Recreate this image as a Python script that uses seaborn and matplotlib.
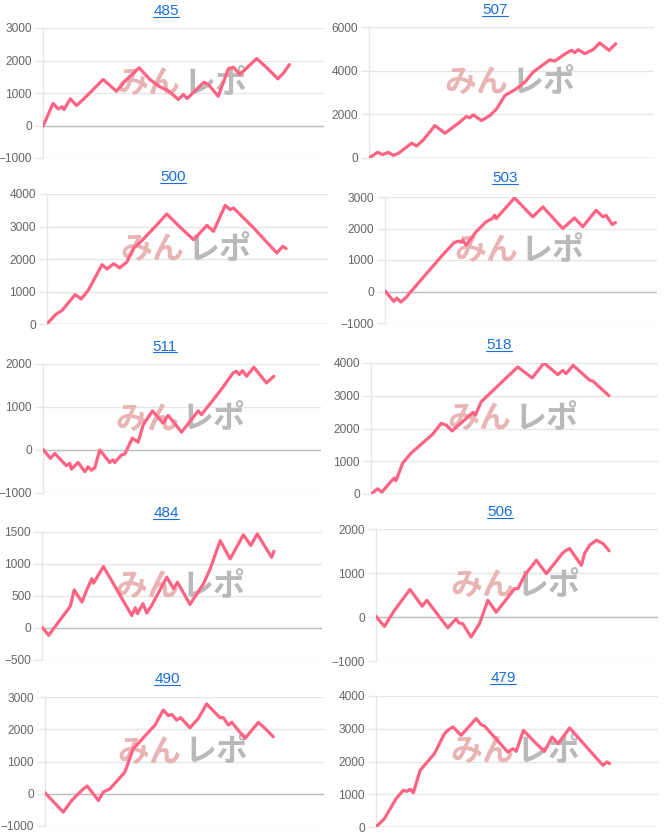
import matplotlib.pyplot as plt
from matplotlib.lines import Line2D
import seaborn as sns

sns.set_theme(style='white')
plt.rcParams['font.family'] = ['Liberation Sans', 'Noto Sans CJK JP', 'DejaVu Sans']

# machine numbers shown as chart titles
titles = ['485', '507', '500', '503', '511', '518', '484', '506', '490', '479']

# cumulative difference (x = progress in %)
x485 = [0, 4.1, 6.1, 7.9, 8.5, 11.1, 13.6, 16.3, 19, 24.4, 29.8, 33.9, 39, 43.4, 47.4, 49.7,
        50.8, 54.9, 56.9, 58.5, 65.3, 67.1, 71.1, 75.2, 77.2, 79.9, 82.7, 86.7, 90.8, 95.3, 97.6, 100]
y485 = [-20, 680, 510, 575, 490, 820, 615, 800, 1005, 1415, 1055, 1415, 1775, 1415, 1190, 1110,
        1070, 800, 955, 830, 1335, 1260, 900, 1745, 1795, 1570, 1775, 2060, 1775, 1435, 1620, 1875]

x507 = [0, 3.5, 5.5, 7.8, 9.9, 11.9, 17.3, 19.3, 22, 26.7, 30.8, 36.2, 39.5, 40.9, 42.2, 45.6, 49,
        51.7, 55.1, 59.1, 63.2, 66.5, 73.3, 75.3, 80, 82.1, 83.4, 84.8, 87.4, 90.8, 93.5, 97.3, 100]
y507 = [0, 260, 155, 260, 120, 215, 675, 550, 825, 1485, 1135, 1595, 1900, 1840, 1975, 1715, 1945,
        2250, 2865, 3125, 3475, 3935, 4500, 4440, 4810, 4930, 4825, 4960, 4780, 4960, 5270, 4930, 5235]

x500 = [0, 3.5, 6.3, 11.8, 14.3, 17.4, 23, 25.1, 27.9, 30.4, 33.4, 36.2, 39, 46, 50.1, 55.7,
        61.3, 66.9, 69.6, 74.5, 76.6, 78, 86.4, 96.1, 98.6, 100]
y500 = [0, 285, 420, 905, 770, 1055, 1825, 1690, 1855, 1725, 1910, 2340, 2515, 3055, 3385, 2975,
        2595, 3035, 2850, 3650, 3520, 3570, 2955, 2185, 2390, 2320]

x503 = [0, 3.8, 5.1, 6.9, 9.1, 11.3, 25, 30.1, 32, 33, 33.7, 35.2, 39.5, 43.8, 46.5, 47.5, 48.2,
        56.2, 64.1, 68.5, 77.1, 82.2, 85.8, 91.6, 94.5, 95.9, 98.6, 100]
y503 = [20, -315, -210, -335, -190, 0, 1160, 1560, 1600, 1560, 1630, 1475, 1895, 2210, 2315, 2420,
        2315, 2970, 2370, 2685, 2000, 2335, 2055, 2580, 2370, 2420, 2125, 2190]

x511 = [0, 3.2, 5.1, 10.1, 11.6, 12.3, 15.2, 18.1, 19.5, 21, 22.4, 24.6, 28.9, 30.3, 31.1, 34,
        35.4, 38.7, 41.2, 43.4, 47.4, 52, 54.2, 60, 67.2, 68.6, 76.6, 82.4, 83.8, 85, 86.4, 88.2,
        91.3, 96.8, 100]
y511 = [15, -195, -80, -365, -310, -445, -290, -505, -390, -470, -415, 0, -290, -230, -290, -115,
        -95, 275, 180, 585, 910, 625, 805, 415, 910, 820, 1365, 1795, 1830, 1755, 1845, 1715,
        1925, 1560, 1715]

x518 = [0, 2.8, 4.6, 8.4, 9.8, 10.5, 13.3, 16.8, 25.9, 29.5, 31.6, 34.1, 42.8, 43.9, 46.3, 56.8,
        61.7, 67.7, 72.7, 78.5, 80.6, 82, 84.9, 91.9, 93.3, 100]
y518 = [0, 160, 60, 385, 485, 405, 940, 1245, 1825, 2155, 2105, 1925, 2490, 2410, 2815, 3545,
        3880, 3545, 4000, 3645, 3775, 3675, 3930, 3475, 3445, 3000]

x484 = [0, 2.9, 5, 12.2, 13.9, 17.2, 19.7, 21.5, 22.2, 26.5, 38.7, 40.2, 41.2, 43.5, 45.2, 47.3,
        53.8, 56.7, 58.4, 63.8, 69.6, 72.5, 76.8, 81.1, 86.8, 90, 92.8, 95.4, 99, 100]
y484 = [15, -115, -10, 340, 595, 405, 630, 770, 700, 960, 195, 315, 225, 380, 235, 355,
        795, 615, 715, 370, 690, 925, 1365, 1080, 1455, 1290, 1470, 1315, 1105, 1200]

x506 = [0, 3.6, 7.9, 14.6, 19.8, 21.8, 30.8, 34.4, 35.5, 37.2, 40.8, 44.4, 48, 51.6, 59.5, 60.9,
        63.8, 68.8, 73.1, 80.2, 81.7, 83.1, 88.1, 89.5, 91.7, 94.6, 97.4, 100]
y506 = [15, -215, 150, 625, 245, 380, -245, -40, -135, -150, -455, -150, 380, 110, 645, 645,
        950, 1290, 985, 1460, 1520, 1555, 1175, 1445, 1635, 1745, 1670, 1505]

x490 = [0, 8, 11.7, 16.8, 18.5, 23.4, 25.5, 28.5, 35, 38.7, 40.9, 43.8, 48.2, 51.8, 54, 55.5,
        57.7, 59.4, 63.5, 67.2, 70.8, 76.6, 78.1, 80.3, 81.8, 87.6, 93.4, 95.6, 100]
y490 = [30, -570, -210, 155, 240, -210, 50, 155, 675, 1405, 1560, 1795, 2130, 2595, 2420, 2460,
        2285, 2360, 2045, 2340, 2785, 2360, 2360, 2130, 2215, 1715, 2210, 2080, 1765]

x479 = [0, 3.6, 8.6, 11.7, 13.1, 14.6, 16, 18.9, 25, 29.3, 30.7, 32.9, 36.4, 42.9, 45, 46.4,
        56.4, 58.6, 60, 63.1, 68.6, 72.1, 75.4, 77.9, 82.9, 91.4, 97.1, 98.9, 100]
y479 = [0, 255, 865, 1120, 1090, 1150, 1050, 1730, 2240, 2850, 2950, 3055, 2800, 3310, 3125, 3085,
        2290, 2390, 2310, 2950, 2545, 2310, 2750, 2545, 3025, 2340, 1885, 1985, 1935]

xs = [x485, x507, x500, x503, x511, x518, x484, x506, x490, x479]
ys = [y485, y507, y500, y503, y511, y518, y484, y506, y490, y479]

yticks = [
    [-1000, 0, 1000, 2000, 3000],
    [0, 2000, 4000, 6000],
    [0, 1000, 2000, 3000, 4000],
    [-1000, 0, 1000, 2000, 3000],
    [-1000, 0, 1000, 2000],
    [0, 1000, 2000, 3000, 4000],
    [-500, 0, 500, 1000, 1500],
    [-1000, 0, 1000, 2000],
    [-1000, 0, 1000, 2000, 3000],
    [0, 1000, 2000, 3000, 4000],
]

# layout in pixels: plot box (left, top, right, bottom), x range, title centre
W, H = 666, 835
boxes = [(43, 28, 324, 158), (369, 27, 654, 158),
         (47, 194, 328, 324), (385, 197, 657, 323),
         (43, 364, 321, 493), (371, 363, 658, 494),
         (42, 532, 322, 660), (376, 529, 658, 661),
         (45, 697, 324, 826), (376, 696, 658, 827)]
xmax = [114, 115.5, 117.5, 118, 120.4, 120.6, 120.7, 121, 122.2, 120.7]
title_pos = [(166, 15), (495, 14), (173, 181), (505, 182), (165, 351),
             (499, 349), (166, 517), (500, 516), (167, 683), (503, 682)]

fig = plt.figure(figsize=(W / 100, H / 100), dpi=100)

for i in range(10):
    L, T, R, B = boxes[i]
    ax = fig.add_axes([L / W, 1 - B / H, (R - L) / W, (B - T) / H])
    ax.set_axisbelow(True)
    ax.text(0.49, 0.57, 'みん', transform=ax.transAxes, ha='right', va='center',
            fontsize=23, fontweight='bold', color='#e9b4b4', zorder=1,
            family=['Noto Sans CJK JP'])
    ax.text(0.50, 0.57, 'レポ', transform=ax.transAxes, ha='left', va='center',
            fontsize=23, fontweight='bold', color='#b9b9b9', zorder=1,
            family=['Noto Sans CJK JP'])
    sns.lineplot(x=xs[i], y=ys[i], ax=ax, color='#ff6384', linewidth=2.3,
                 estimator=None, sort=False, zorder=3)
    ax.axhline(0, color='#bdbdbd', lw=1, zorder=2)
    ax.set_xlim(0, xmax[i])
    ax.set_ylim(yticks[i][0], yticks[i][-1])
    ax.set_yticks(yticks[i])
    ax.set_xticks([])
    ax.set_xlabel('')
    ax.set_ylabel('')
    ax.grid(axis='y', color='#e6e6e6', lw=1)
    for s in ['top', 'right', 'bottom']:
        ax.spines[s].set_visible(False)
    ax.spines['left'].set_color('#e6e6e6')
    ax.spines['left'].set_linewidth(1)
    ax.tick_params(axis='y', length=6, width=1, color='#e6e6e6',
                   labelsize=8.6, labelcolor='#666666', pad=2, left=True)

texts = []
for i, t in enumerate(titles):
    cx, by = title_pos[i]
    texts.append(fig.text(cx / W, 1 - by / H, t, ha='center', va='baseline',
                          fontsize=11, color='#1a6fd6'))

# underline the link-style titles
fig.canvas.draw()
r = fig.canvas.get_renderer()
for i, t in enumerate(texts):
    bb = t.get_window_extent(r)
    yy = 1 - (title_pos[i][1] + 1.5) / H
    fig.add_artist(Line2D([bb.x0 / W, bb.x1 / W], [yy, yy], color='#1a6fd6',
                          lw=0.8, transform=fig.transFigure))

fig.savefig('out.png', dpi=100)
